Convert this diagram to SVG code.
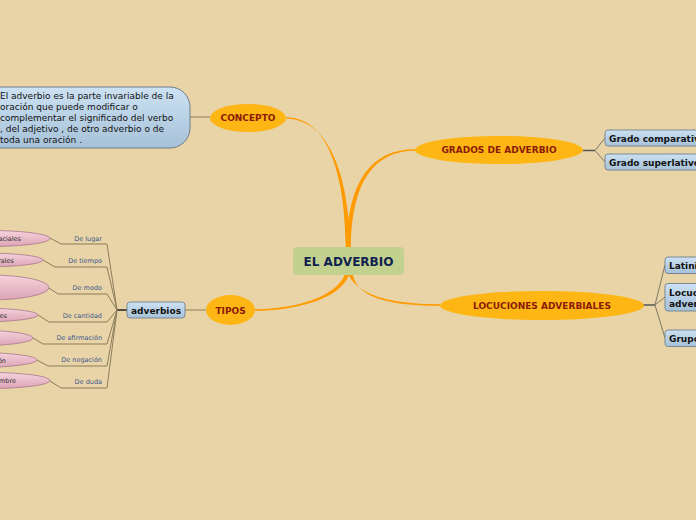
<svg xmlns="http://www.w3.org/2000/svg" width="696" height="520" viewBox="0 0 696 520">
<defs>
<linearGradient id="gBlue" x1="0" y1="0" x2="0" y2="1">
<stop offset="0" stop-color="#cde2f3"/><stop offset="1" stop-color="#a6c1d8"/>
</linearGradient>
<linearGradient id="gPink" x1="0" y1="0" x2="0" y2="1">
<stop offset="0" stop-color="#f6d2dc"/><stop offset="1" stop-color="#dca4b6"/>
</linearGradient>
<style>
.t{font-family:"DejaVu Sans",Verdana,sans-serif}
.ell{fill:#fdb614}
.et{font-family:"DejaVu Sans",Verdana,sans-serif;font-weight:bold;font-size:9px;fill:#8c1a06;text-anchor:middle}
.box{fill:url(#gBlue);stroke:#7b8894;stroke-width:1}
.bt{font-family:"DejaVu Sans",Verdana,sans-serif;font-weight:bold;font-size:9px;fill:#111}
.pk{fill:url(#gPink);stroke:#a87a8a;stroke-width:0.8}
.pt{font-family:"DejaVu Sans",Verdana,sans-serif;font-size:6.5px;fill:#333;text-anchor:end}
.lb{font-family:"DejaVu Sans",Verdana,sans-serif;font-size:6.5px;fill:#3d5a8c;text-anchor:end}
.ln{fill:none;stroke:#8c7d5a;stroke-width:1}
.gl{fill:none;stroke:#7a7668;stroke-width:1}
.or{fill:#ff9a00}
</style>
</defs>
<rect width="696" height="520" fill="#e9d4a8"/>

<g id="connectors">
<path class="or" d="M286,117.2 C322,117.2 344.5,160 345.8,247 L350.3,247 C348.3,160 322,118.8 286,118.8 Z"/>
<path class="or" d="M346.3,247 C347.6,180 372,149.2 415,149.2 L415,150.8 C374,150.8 351.5,182 350.8,247 Z"/>
<path class="or" d="M344.5,275 C335.5,298 292,309.2 255,309.2 L255,310.8 C293,310.8 339.5,300 349,275 Z"/>
<path class="or" d="M348.5,275 C360,298 398,304.2 440,304.2 L440,305.8 C397,305.8 357.5,300 353,275 Z"/>
<line class="ln" x1="190" y1="117" x2="210" y2="117" stroke="#a0957a"/>
<line class="ln" x1="185" y1="310" x2="206" y2="310" stroke="#a0957a"/>
<line x1="117" y1="310" x2="127" y2="310" stroke="#222" stroke-width="1.5"/>
<polyline class="ln" points="50,238 61,244 107,244 117,310"/>
<polyline class="ln" points="43,260 55,267 107,267 117,310"/>
<polyline class="ln" points="49,288 58,294 107,294 117,310"/>
<polyline class="ln" points="38,315 49,322 107,322 117,310"/>
<polyline class="ln" points="33,338 43,344 107,344 117,310"/>
<polyline class="ln" points="37,360 48,366 107,366 117,310"/>
<polyline class="ln" points="50,381 61,388 107,388 117,310"/>
<line x1="583" y1="150.5" x2="595" y2="150.5" stroke="#555" stroke-width="1.5"/>
<polyline class="gl" points="605,138 595,150.5 605,162"/>
<line x1="643" y1="305" x2="655" y2="305" stroke="#555" stroke-width="1.5"/>
<polyline class="gl" points="665,265 655,305 665,338"/>
<line class="gl" x1="655" y1="305" x2="665" y2="297"/>
</g>

<g id="central">
<rect x="293" y="247" width="111" height="28" rx="4" fill="#c3d18f"/>
<text class="t" x="348.5" y="266" font-size="12" font-weight="bold" fill="#0f2350" text-anchor="middle">EL ADVERBIO</text>
</g>

<g id="concepto">
<ellipse class="ell" cx="248" cy="118" rx="38" ry="14"/>
<text class="et" x="248" y="121" font-size="8.5">CONCEPTO</text>
</g>

<g id="concepto-def">
<rect x="-30" y="87" width="220" height="61" rx="20" fill="url(#gBlue)" stroke="#6f7d89"/>
<text class="t" font-size="9" fill="#111">
<tspan x="0" y="99">El adverbio es la parte invariable de la</tspan>
<tspan x="0" y="110">oración que puede modificar o</tspan>
<tspan x="0" y="121">complementar el significado del verbo</tspan>
<tspan x="0" y="132">, del adjetivo , de otro adverbio o de</tspan>
<tspan x="0" y="143">toda una oración .</tspan>
</text>
</g>

<g id="grados">
<ellipse class="ell" cx="499" cy="150" rx="84" ry="14"/>
<text class="et" x="499" y="153">GRADOS DE ADVERBIO</text>
</g>
<g id="grado-comparativo">
<rect class="box" x="605" y="130" width="110" height="16" rx="3"/>
<text class="bt" x="609" y="142">Grado comparativo</text>
</g>
<g id="grado-superlativo">
<rect class="box" x="605" y="154" width="110" height="16" rx="3"/>
<text class="bt" x="609" y="166">Grado superlativo</text>
</g>

<g id="locuciones">
<ellipse class="ell" cx="542" cy="305.5" rx="102" ry="14.5"/>
<text class="et" x="542" y="309">LOCUCIONES ADVERBIALES</text>
</g>
<g id="latinismos">
<rect class="box" x="665" y="257" width="80" height="16.5" rx="3"/>
<text class="bt" x="669" y="268.5">Latinismos</text>
</g>
<g id="locuciones-adverbiales">
<rect class="box" x="665" y="283.5" width="80" height="27.5" rx="3"/>
<text class="bt"><tspan x="669" y="296">Locuciones</tspan><tspan x="669" y="306.5">adverbiales</tspan></text>
</g>
<g id="grupos">
<rect class="box" x="665" y="330" width="80" height="16.5" rx="3"/>
<text class="bt" x="669" y="341.5">Grupos adverbiales</text>
</g>

<g id="tipos">
<ellipse class="ell" cx="230.5" cy="310" rx="24.5" ry="15"/>
<text class="et" x="230.5" y="313.5">TIPOS</text>
</g>
<g id="adverbios">
<rect class="box" x="127" y="302" width="58" height="16" rx="3"/>
<text class="bt" x="156" y="313.5" text-anchor="middle">adverbios</text>
</g>

<g id="de-lugar">
<ellipse class="pk" cx="-10" cy="238.5" rx="60" ry="8"/>
<text class="pt" x="21" y="241">espaciales</text>
<text class="lb" x="102" y="241">De lugar</text>
</g>
<g id="de-tiempo">
<ellipse class="pk" cx="-17" cy="260" rx="60" ry="7"/>
<text class="pt" x="14" y="262.5">temporales</text>
<text class="lb" x="102" y="263">De tiempo</text>
</g>
<g id="de-modo">
<ellipse class="pk" cx="-11" cy="287.5" rx="60" ry="12.5"/>
<text class="lb" x="102" y="290">De modo</text>
</g>
<g id="de-cantidad">
<ellipse class="pk" cx="-22" cy="315" rx="60" ry="7"/>
<text class="pt" x="7" y="317.5">cantidades</text>
<text class="lb" x="102" y="318">De cantidad</text>
</g>
<g id="de-afirmacion">
<ellipse class="pk" cx="-27" cy="338" rx="60" ry="8"/>
<text class="lb" x="102" y="340">De afirmación</text>
</g>
<g id="de-negacion">
<ellipse class="pk" cx="-23" cy="360" rx="60" ry="7.5"/>
<text class="pt" x="6" y="362.5">negación</text>
<text class="lb" x="102" y="362">De negación</text>
</g>
<g id="de-duda">
<ellipse class="pk" cx="-10" cy="380.5" rx="60" ry="8"/>
<text class="pt" x="16" y="383">incertidumbre</text>
<text class="lb" x="102" y="384">De duda</text>
</g>
</svg>
